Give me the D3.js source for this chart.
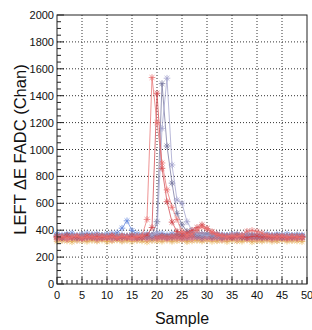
<!DOCTYPE html>
<html>
<head>
<meta charset="utf-8">
<script src="https://cdn.jsdelivr.net/npm/d3@7"></script>
<style>
  body { margin: 0; background: #fff; }
  svg { display: block; font-family: "Liberation Sans", Arial, sans-serif; }
</style>
</head>
<body>
<div id="chart"></div>
<script>
// waveform samples (FADC channels), one array per trace
const samples = d3.range(0, 50);
const xTicks = [0, 5, 10, 15, 20, 25, 30, 35, 40, 45, 50];
const yTicks = [0, 200, 400, 600, 800, 1000, 1200, 1400, 1600, 1800, 2000];

const orangeTrace = [318,325,320,314,328,322,317,324,319,326,315,321,327,318,323,316,324,320,313,326,321,318,325,317,322,328,315,320,324,319,326,317,321,323,316,325,320,318,327,314,322,319,324,317,321,326,318,323,320,316];
const tanTrace = [331,326,335,329,323,334,328,332,325,337,330,327,333,324,331,336,327,330,334,325,332,329,336,326,333,328,324,335,330,327,332,337,326,331,328,334,323,330,335,328,331,326,333,329,324,336,330,327,332,329];
const pinkTrace = [336,342,331,345,338,334,340,347,333,339,344,330,341,337,346,335,339,343,332,348,337,341,334,345,339,336,342,333,347,338,340,335,344,331,339,342,337,346,334,340,336,343,338,332,345,339,335,341,337,343];
const mauveTrace = [350,344,355,347,352,341,349,356,345,351,348,354,343,350,357,346,352,349,355,344,360,351,347,353,358,349,346,354,350,343,352,348,356,345,351,347,353,349,344,355,350,346,352,348,354,345,351,349,347,352];
const blueTrace = [372,365,370,378,362,368,375,366,371,360,369,374,380,415,470,398,372,366,370,362,368,375,366,372,360,368,364,370,366,372,360,365,371,366,362,368,370,364,372,366,360,367,371,363,368,365,370,362,366,364];
const slateTrace = [360,354,363,357,352,361,356,365,351,359,362,355,358,364,353,360,357,362,356,359,363,358,354,361,366,360,356,362,355,359,364,357,352,361,358,363,356,360,354,359,362,357,361,355,358,363,356,360,357,354];
const brownTrace = [355,349,358,351,346,357,352,348,360,353,347,356,350,354,349,358,352,346,355,362,350,357,353,348,356,351,359,365,372,368,358,353,349,356,351,347,355,350,358,352,348,354,349,357,351,346,353,350,355,348];
const roseTrace = [345,351,340,348,354,343,350,346,357,341,349,353,344,351,347,355,342,350,348,353,346,352,344,356,349,343,351,358,362,360,352,347,355,344,350,361,366,358,350,345,353,348,351,356,343,349,354,346,352,348];
const lightRedTrace = [346,353,341,350,356,344,349,352,343,355,347,351,345,354,349,342,352,358,480,1535,1200,900,700,570,480,390,365,372,400,425,410,388,368,356,350,359,352,362,392,398,390,378,362,355,350,357,348,353,349,346];
const redTrace = [352,345,357,348,351,343,356,349,354,347,350,358,344,352,348,355,346,351,362,420,1418,860,612,460,390,372,380,398,420,440,412,385,366,358,352,348,355,350,346,353,357,349,352,347,355,350,345,352,348,351];
const greyTrace = [358,351,362,355,349,360,353,357,350,361,354,348,359,352,356,363,350,357,354,360,463,1490,1026,750,525,440,392,378,365,360,372,356,362,351,358,355,362,349,357,360,353,358,351,356,362,349,357,353,359,355];
const lavenderTrace = [362,356,350,364,358,353,361,355,366,352,359,363,354,360,357,351,362,356,359,365,380,1157,1530,885,625,600,463,400,372,366,360,368,355,362,358,364,351,359,365,356,361,354,360,357,363,352,358,361,355,359];

const traces = [
  { v: orangeTrace, c: "#e8b64e" },
  { v: tanTrace, c: "#d9a070" },
  { v: blueTrace, c: "#6688dd" },
  { v: slateTrace, c: "#8796c0" },
  { v: pinkTrace, c: "#e4849a" },
  { v: mauveTrace, c: "#a0678e" },
  { v: brownTrace, c: "#b85a5e" },
  { v: roseTrace, c: "#d46b78" },
  { v: greyTrace, c: "#76769f" },
  { v: lavenderTrace, c: "#a2a2cc" },
  { v: redTrace, c: "#d0454c" },
  { v: lightRedTrace, c: "#e87070" }
];

const W = 312, H = 330;
const L = 57, R = 307, T = 15, B = 284;

const svg = d3.select("#chart").append("svg")
  .attr("width", W).attr("height", H);

const x = d3.scaleLinear().domain([0, 50]).range([L, R]);
const y = d3.scaleLinear().domain([0, 2000]).range([B, T]);

// grid
svg.append("g").selectAll("line").data(xTicks.slice(1, -1)).enter().append("line")
  .attr("x1", d => x(d)).attr("x2", d => x(d)).attr("y1", T).attr("y2", B)
  .attr("stroke", "#333").attr("stroke-dasharray", "1,2");
svg.append("g").selectAll("line").data(yTicks.slice(1, -1)).enter().append("line")
  .attr("x1", L).attr("x2", R).attr("y1", d => y(d)).attr("y2", d => y(d))
  .attr("stroke", "#333").attr("stroke-dasharray", "1,2");

// traces
const line = d3.line().x((d, i) => x(samples[i])).y(d => y(d));
const star = r => `M${-r},0H${r}M0,${-r}V${r}M${-r*0.72},${-r*0.72}L${r*0.72},${r*0.72}M${-r*0.72},${r*0.72}L${r*0.72},${-r*0.72}`;

const g = svg.append("g");
traces.forEach(t => {
  g.append("path").attr("d", line(t.v)).attr("fill", "none")
    .attr("stroke", t.c).attr("stroke-width", 1).attr("stroke-opacity", 0.75);
  g.append("g").selectAll("path").data(t.v).enter().append("path")
    .attr("transform", (d, i) => `translate(${x(samples[i])},${y(d)})`)
    .attr("d", star(3.3)).attr("fill", "none")
    .attr("stroke", t.c).attr("stroke-width", 1).attr("stroke-opacity", 0.75);
});

// frame
svg.append("rect").attr("x", L).attr("y", T).attr("width", R - L).attr("height", B - T)
  .attr("fill", "none").attr("stroke", "#222").attr("stroke-width", 1);

// axes, ticks inward like ROOT
const xAxis = svg.append("g");
xAxis.selectAll("line").data(d3.range(0, 51)).enter().append("line")
  .attr("x1", d => x(d)).attr("x2", d => x(d))
  .attr("y1", B).attr("y2", d => d % 5 === 0 ? B - 7 : B - 4)
  .attr("stroke", "#222");
xAxis.selectAll("text").data(xTicks).enter().append("text")
  .attr("x", d => x(d)).attr("y", B + 15)
  .attr("text-anchor", "middle").attr("font-size", 11).attr("fill", "#111")
  .text(d => d);

const yAxis = svg.append("g");
yAxis.selectAll("line").data(d3.range(0, 2001, 50)).enter().append("line")
  .attr("x1", L).attr("x2", d => d % 200 === 0 ? L + 7 : L + 4)
  .attr("y1", d => y(d)).attr("y2", d => y(d))
  .attr("stroke", "#222");
yAxis.selectAll("text").data(yTicks).enter().append("text")
  .attr("x", L - 3).attr("y", d => y(d) + 4)
  .attr("text-anchor", "end").attr("font-size", 11).attr("fill", "#111")
  .text(d => d);

// titles
svg.append("text").attr("x", (L + R) / 2).attr("y", 324)
  .attr("text-anchor", "middle").attr("font-size", 16).attr("fill", "#111")
  .text("Sample");
svg.append("text").attr("transform", `translate(26,${(T + B) / 2}) rotate(-90)`)
  .attr("text-anchor", "middle").attr("font-size", 16.5).attr("fill", "#111")
  .text("LEFT ΔE FADC (Chan)");
</script>
</body>
</html>
